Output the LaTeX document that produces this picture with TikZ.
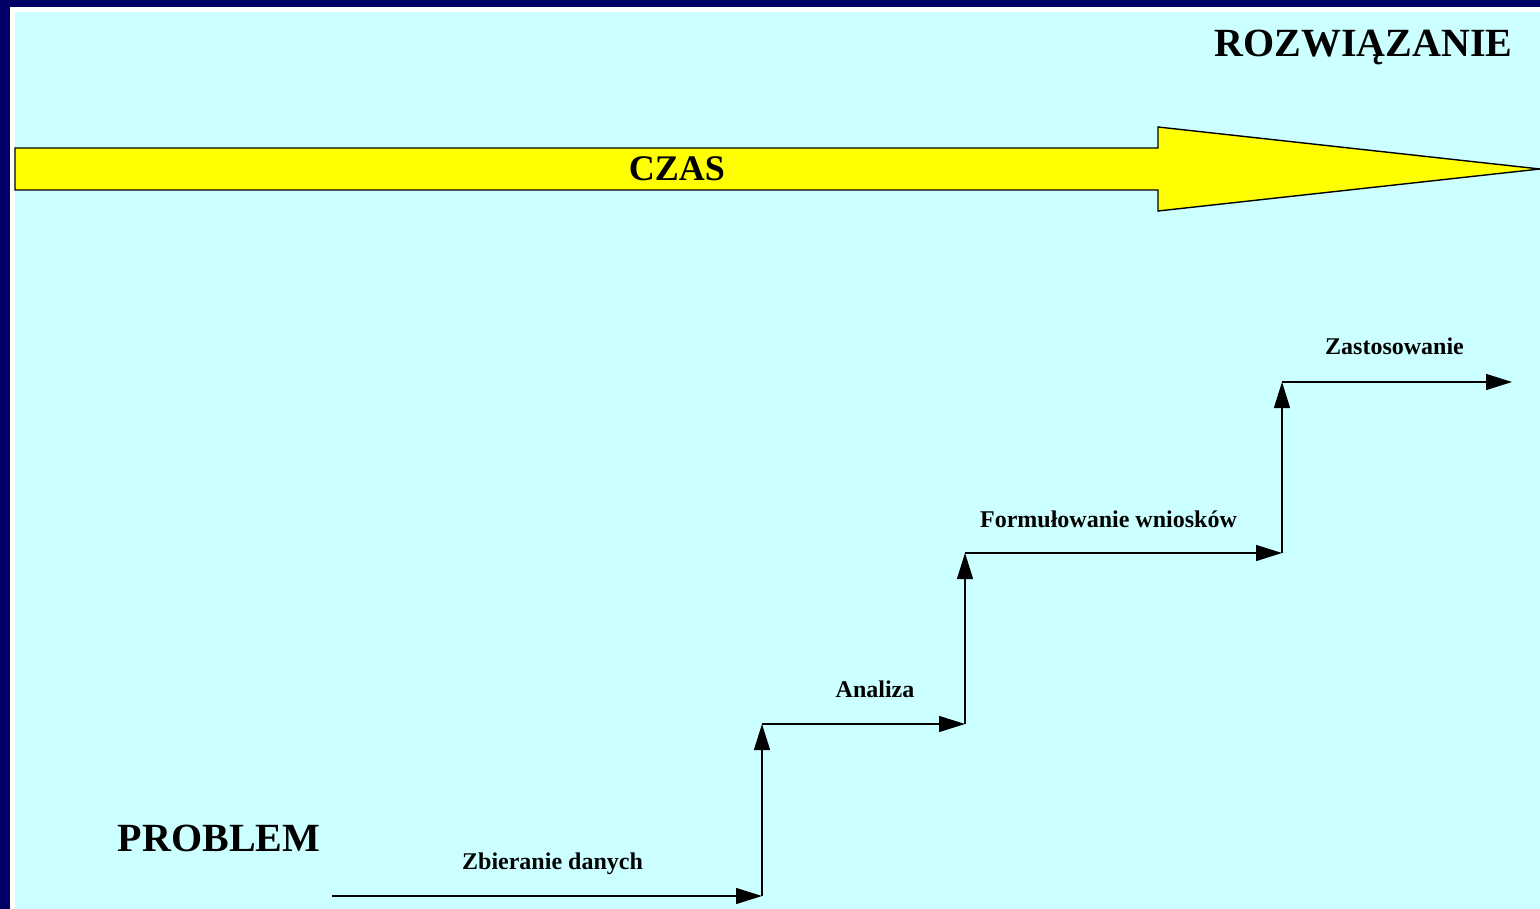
\documentclass[tikz,border=0pt]{standalone}
\usepackage{fontspec}
\setmainfont{Liberation Serif}
\usetikzlibrary{arrows.meta}
\definecolor{navy}{RGB}{0,0,102}
\definecolor{bgcyan}{RGB}{204,255,255}
\definecolor{arrowyellow}{RGB}{255,255,0}
\tikzset{
  bigtext/.style={font=\fontsize{40}{44}\selectfont\bfseries, inner sep=0pt, anchor=base},
  czastext/.style={font=\fontsize{36}{40}\selectfont\bfseries, inner sep=0pt, anchor=base},
  steptext/.style={font=\fontsize{24}{28}\selectfont\bfseries, inner sep=0pt, anchor=base},
  stepline/.style={line width=1.3pt, -{Triangle[length=26pt,width=16pt]}},
}
\begin{document}
\begin{tikzpicture}[x=1pt,y=-1pt]
\useasboundingbox (0,0) rectangle (1540,909);
% background frame
\fill[navy] (0,0) rectangle (1540,909);
\fill[white] (10,7) rectangle (1540,909);
\fill[bgcyan] (15,12) rectangle (1540,909);
% time arrow
\draw[fill=arrowyellow, draw=black, line width=1.4pt, line join=miter]
  (15,148) -- (1158,148) -- (1158,127) -- (1540,169) -- (1158,211) -- (1158,190) -- (15,190) -- cycle;
\node[czastext] (czas) at (677,181) {CZAS};
% big labels
\node[bigtext] (rozw) at (1363.5,57) {ROZWIĄZANIE};
\node[bigtext] (problem) at (219,851) {PROBLEM};
% stair coordinates
\coordinate (p0) at (332,896);
\coordinate (c1) at (762,896);
\coordinate (c2) at (762,724);
\coordinate (c3) at (965,724);
\coordinate (c4) at (965,553);
\coordinate (c5) at (1282,553);
\coordinate (c6) at (1282,382);
\coordinate (pend) at (1512,382);
% stair arrows
\draw[stepline] (p0) -- (c1);
\draw[stepline] (c1) -- (c2);
\draw[stepline] (c2) -- (c3);
\draw[stepline] (c3) -- (c4);
\draw[stepline] (c4) -- (c5);
\draw[stepline] (c5) -- (c6);
\draw[stepline] (c6) -- (pend);
% step labels
\node[steptext] (s1) at (552.5,869) {Zbieranie danych};
\node[steptext] (s2) at (875,697) {Analiza};
\node[steptext] (s3) at (1108.5,527) {Formułowanie wniosków};
\node[steptext] (s4) at (1394.5,355) {Zastosowanie};
\end{tikzpicture}
\end{document}
